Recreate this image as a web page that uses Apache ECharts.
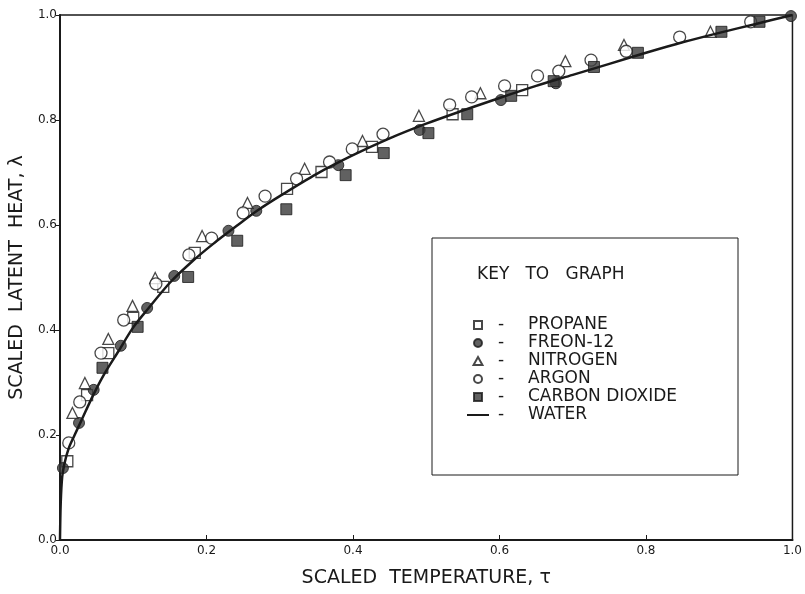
<!DOCTYPE html>
<html>
<head>
<meta charset="utf-8">
<title>Scaled latent heat</title>
<script src="https://cdn.jsdelivr.net/npm/echarts@6/dist/echarts.min.js"></script>
<style>
html, body {margin: 0; padding: 0; background: #fff;}
#chart {width: 805px; height: 594px;}
</style>
</head>
<body>
<div id="chart"></div>
<script>
// data: [tau, lambda]
var propane = [[0.010,0.150],[0.037,0.276],[0.066,0.356],[0.100,0.423],[0.141,0.482],[0.184,0.547],
	[0.310,0.669],[0.357,0.701],[0.426,0.749],[0.536,0.811],[0.631,0.857]];
var freon12 = [[0.004,0.137],[0.026,0.223],[0.046,0.286],[0.083,0.370],[0.119,0.442],[0.156,0.503],
	[0.230,0.589],[0.268,0.627],[0.380,0.714],[0.491,0.781],[0.602,0.838],[0.677,0.870],[0.998,0.998]];
var nitrogen = [[0.017,0.242],[0.034,0.299],[0.066,0.383],[0.099,0.446],[0.130,0.499],[0.194,0.579],
	[0.256,0.642],[0.334,0.707],[0.413,0.760],[0.490,0.808],[0.574,0.851],[0.690,0.912],[0.770,0.943],[0.888,0.968]];
var argon = [[0.012,0.185],[0.027,0.263],[0.056,0.356],[0.087,0.419],[0.131,0.488],[0.176,0.543],
	[0.207,0.575],[0.250,0.623],[0.280,0.655],[0.323,0.688],[0.368,0.720],[0.399,0.745],[0.441,0.773],
	[0.532,0.829],[0.562,0.844],[0.607,0.865],[0.652,0.884],[0.681,0.893],[0.725,0.914],[0.773,0.931],
	[0.846,0.958],[0.943,0.987]];
var carbonDioxide = [[0.058,0.328],[0.106,0.406],[0.175,0.501],[0.242,0.570],[0.309,0.630],[0.390,0.695],
	[0.442,0.737],[0.503,0.775],[0.556,0.811],[0.616,0.846],[0.674,0.874],[0.729,0.901],[0.789,0.928],
	[0.903,0.968],[0.955,0.987]];
var water = [[0,0],[0.001,0.07],[0.003,0.12],[0.006,0.145],[0.012,0.175],[0.02,0.2],[0.03,0.23],
	[0.045,0.275],[0.06,0.315],[0.08,0.36],[0.1,0.405],[0.12,0.44],[0.15,0.49],[0.18,0.53],[0.21,0.565],
	[0.24,0.597],[0.27,0.628],[0.3,0.655],[0.35,0.697],[0.4,0.733],[0.45,0.765],[0.5,0.793],[0.55,0.818],
	[0.6,0.842],[0.65,0.865],[0.7,0.886],[0.75,0.907],[0.8,0.928],[0.85,0.948],[0.9,0.966],[0.95,0.983],[1.0,1.0]];

var seriesNames = ['PROPANE', 'FREON-12', 'NITROGEN', 'ARGON', 'CARBON DIOXIDE', 'WATER'];
var xTitle = 'SCALED  TEMPERATURE, \u03c4';
var yTitle = 'SCALED  LATENT  HEAT, \u03bb';

var font = 'DejaVu Sans';
var ink = '#1a1a1a';

var openStyle = {color: '#fff', borderColor: ink, borderWidth: 1.3};
var filledStyle = {color: '#3a3a3a', borderColor: ink, borderWidth: 1};

// legend icons (paths keep their aspect inside the icon box)
var sqIcon = 'path://M0,0L10,0L10,10L0,10Z';
var triIcon = 'path://M5,0L10,9L0,9Z';
var lineIcon = 'path://M0,0L22,0L22,2L0,2Z';

var option = {
	animation: false,
	backgroundColor: '#fff',
	grid: {left: 58, right: 9, top: 15, bottom: 54, show: true, borderColor: ink, borderWidth: 1.5},
	xAxis: {
		type: 'value', min: 0, max: 1, interval: 0.2,
		name: xTitle, nameLocation: 'middle', nameGap: 29,
		nameTextStyle: {fontFamily: font, fontSize: 19, color: ink},
		axisLine: {lineStyle: {color: ink, width: 2}},
		axisTick: {inside: true, length: 5, lineStyle: {color: ink}},
		axisLabel: {fontFamily: font, fontSize: 12, color: ink, margin: 5, formatter: function(v){return v.toFixed(1);}},
		splitLine: {show: false}
	},
	yAxis: {
		type: 'value', min: 0, max: 1, interval: 0.2,
		name: yTitle, nameLocation: 'middle', nameGap: 24,
		nameTextStyle: {fontFamily: font, fontSize: 19, color: ink},
		axisLine: {lineStyle: {color: ink, width: 2}},
		axisTick: {inside: false, length: 4, lineStyle: {color: ink}},
		axisLabel: {fontFamily: font, fontSize: 12, color: ink, margin: 3, formatter: function(v){return v.toFixed(1);}},
		splitLine: {show: false}
	},
	legend: {
		orient: 'vertical', left: 462, top: 311,
		itemWidth: 22, itemHeight: 8, itemGap: 0,
		data: [
			{name: seriesNames[0], icon: sqIcon},
			{name: seriesNames[1], icon: 'circle'},
			{name: seriesNames[2], icon: triIcon},
			{name: seriesNames[3], icon: 'circle'},
			{name: seriesNames[4], icon: sqIcon},
			{name: seriesNames[5], icon: lineIcon}
		],
		textStyle: {
			fontFamily: font, fontSize: 17, color: ink, lineHeight: 18,
			rich: {d: {width: 30, padding: [0, 0, 0, 4], fontSize: 17, lineHeight: 18, fontFamily: font, color: ink},
				n: {fontSize: 17, lineHeight: 18, fontFamily: font, color: ink}}
		},
		formatter: function(name){return '{d|-}{n|' + name + '}';}
	},
	graphic: [
		{type: 'rect', shape: {x: 432, y: 238, width: 306, height: 237}, style: {fill: 'none', stroke: ink, lineWidth: 1}, z: 0},
		{type: 'text', left: 477, top: 266, style: {text: 'KEY   TO   GRAPH', font: '17px "DejaVu Sans"', fill: ink}}
	],
	series: [
		{name: seriesNames[0], type: 'scatter', symbol: 'rect', symbolSize: 11, data: propane, itemStyle: openStyle, z: 3},
		{name: seriesNames[1], type: 'scatter', symbol: 'circle', symbolSize: 11, data: freon12, itemStyle: filledStyle, z: 3},
		{name: seriesNames[2], type: 'scatter', symbol: 'triangle', symbolSize: 11, data: nitrogen, itemStyle: openStyle, z: 3},
		{name: seriesNames[3], type: 'scatter', symbol: 'circle', symbolSize: 12, data: argon, itemStyle: openStyle, z: 3},
		{name: seriesNames[4], type: 'scatter', symbol: 'rect', symbolSize: 11, data: carbonDioxide, itemStyle: filledStyle, z: 3},
		{name: seriesNames[5], type: 'line', data: water, showSymbol: false, smooth: 0.3,
			lineStyle: {color: ink, width: 2.5}, itemStyle: {color: ink}, z: 4}
	]
};

var myChart = echarts.init(document.getElementById('chart'));
myChart.setOption(option);
</script>
</body>
</html>
